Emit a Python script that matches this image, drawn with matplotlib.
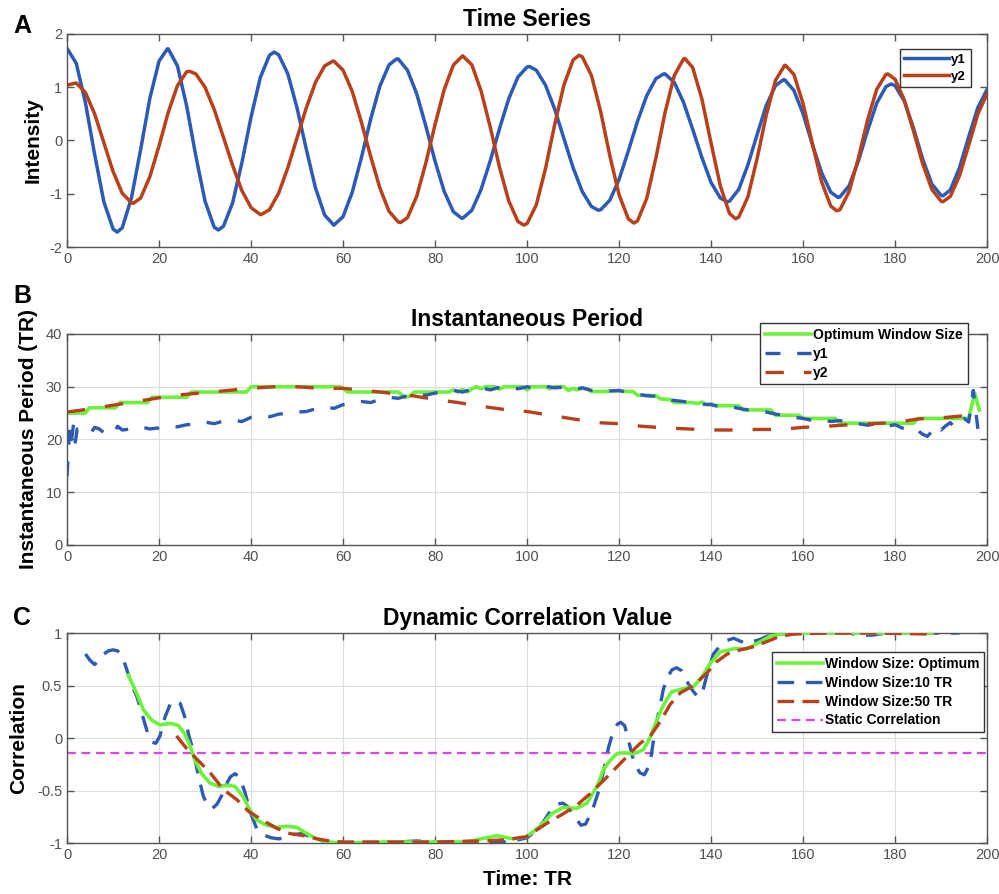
import numpy as np
import matplotlib.pyplot as plt
from matplotlib.ticker import FormatStrFormatter

plt.rcParams['font.family'] = ['Liberation Sans', 'DejaVu Sans']
plt.rcParams['axes.unicode_minus'] = False

BLUE = '#2c5ab4'
RED = '#b8401a'
GREEN = '#6cf23a'
MAGENTA = '#dd44ee'

# ---- panel A: time series, read every 2 TR plus the peaks/troughs ----
t = np.arange(0, 201, 2)
y1 = [1.73, 1.45, 0.71, -0.26, -1.15, -1.66, -1.64, -1.08, -0.17, 0.79,
      1.49, 1.72, 1.40, 0.65, -0.29, -1.14, -1.63, -1.61, -1.17, -0.42,
      0.44, 1.18, 1.60, 1.61, 1.25, 0.61, -0.16, -0.89, -1.40, -1.59,
      -1.43, -0.97, -0.32, 0.40, 1.02, 1.42, 1.53, 1.32, 0.88, 0.27,
      -0.39, -0.96, -1.34, -1.46, -1.31, -0.92, -0.38, 0.22, 0.78, 1.19,
      1.38, 1.32, 1.04, 0.59, 0.04, -0.51, -0.96, -1.24, -1.30, -1.12,
      -0.73, -0.20, 0.36, 0.84, 1.16, 1.25, 1.09, 0.72, 0.21, -0.32,
      -0.79, -1.08, -1.14, -0.92, -0.46, 0.11, 0.66, 1.03, 1.14, 0.94,
      0.50, -0.07, -0.60, -0.97, -1.06, -0.85, -0.39, 0.18, 0.70, 1.01,
      1.03, 0.74, 0.23, -0.35, -0.82, -1.03, -0.93, -0.51, 0.07, 0.62,
      0.96]
y2 = [1.04, 1.08, 0.90, 0.50, -0.04, -0.58, -0.99, -1.17, -1.08, -0.68,
      -0.10, 0.53, 1.03, 1.29, 1.25, 1.00, 0.58, 0.06, -0.47, -0.94,
      -1.26, -1.39, -1.30, -0.99, -0.51, 0.05, 0.61, 1.09, 1.40, 1.49,
      1.32, 0.92, 0.34, -0.30, -0.89, -1.33, -1.53, -1.45, -1.05, -0.42,
      0.30, 0.96, 1.42, 1.59, 1.42, 0.93, 0.25, -0.50, -1.13, -1.52,
      -1.56, -1.21, -0.53, 0.30, 1.04, 1.51, 1.57, 1.22, 0.54, -0.29,
      -1.02, -1.47, -1.51, -1.09, -0.33, 0.53, 1.22, 1.53, 1.37, 0.78,
      -0.05, -0.85, -1.37, -1.44, -1.06, -0.34, 0.48, 1.13, 1.41, 1.24,
      0.69, -0.05, -0.77, -1.23, -1.30, -0.96, -0.34, 0.38, 0.96, 1.24,
      1.15, 0.76, 0.18, -0.44, -0.92, -1.14, -1.05, -0.66, -0.09, 0.50,
      0.88]
y1_ext_t = [10.9, 21.8, 32.9, 45.0, 71.6, 85.8, 100.5, 115.5, 129.7, 143.5, 155.7, 167.6, 179.1, 190.4]
y1_ext = [-1.72, 1.72, -1.68, 1.66, 1.53, -1.46, 1.39, -1.31, 1.25, -1.15, 1.14, -1.07, 1.06, -1.04]
y2_ext_t = [14.4, 26.6, 42.2, 57.8, 72.5, 99.3, 111.3, 123.2, 134.3, 145.3, 156.2, 167.3, 178.4, 190.4]
y2_ext = [-1.18, 1.30, -1.39, 1.49, -1.54, -1.59, 1.60, -1.55, 1.54, -1.47, 1.41, -1.32, 1.25, -1.15]

# ---- panel B: instantaneous period ----
opt_x = [0, 4, 4.8, 10.5, 11.5, 17.5, 18.5, 26, 27, 39, 40, 59.5, 61, 72, 73.5, 74.5,
         75.5, 83, 84, 85, 86, 87, 88, 89, 90, 91, 93, 94, 95, 99, 100, 101, 104, 105,
         106, 108, 109, 110, 111, 112, 113, 114, 117, 118, 123, 124, 128, 129, 131, 132,
         136, 137, 138, 139, 140, 141, 146, 147, 153, 154, 159, 160, 167, 168, 184, 185,
         196, 197.3, 198.3]
opt_p = [25, 25, 26, 26, 27, 27, 28, 28, 29, 29, 30, 30, 29, 29, 28, 28.2,
         29, 29, 29.4, 29, 29.5, 29, 29.6, 30, 29.6, 30, 30, 29.5, 30, 30, 29.4, 30, 30, 29.6,
         30, 30, 29.3, 29.7, 29.4, 29.7, 29.6, 29.1, 29.1, 29.2, 29.1, 28.4, 28.3, 27.7, 27.6, 27,
         27, 26.8, 27.1, 26.6, 26.8, 26.4, 26.4, 25.6, 25.6, 24.6, 24.6, 24, 24, 23.1, 23.1, 24,
         24, 28.8, 25.6]

p1_x = [0, 0.3, 0.6, 1.0, 1.4, 1.8, 2.2, 3, 4, 5, 6, 7, 8, 9, 10, 11, 12, 13, 14,
        16, 18, 20, 22, 24, 26, 28, 30, 32, 34, 36, 38, 40, 42, 44, 46, 48, 50, 52,
        54, 56, 58, 60, 62, 64, 66, 68, 70, 72, 74, 76, 78, 80, 82, 84, 86, 88, 90,
        92, 94, 96, 98, 100, 102, 104, 106, 108, 110, 112, 114, 116, 118, 120, 122,
        124, 126, 128, 130, 132, 134, 136, 138, 140, 142, 144, 146, 148, 150, 152,
        154, 156, 158, 160, 162, 164, 166, 168, 170, 172, 174, 176, 178, 180, 182,
        184, 186, 187, 188, 189, 190, 191, 192, 193, 194, 195, 196, 197, 198]
p1 = [13, 18, 22.5, 20, 22.8, 19.5, 22, 21.8, 21.2, 21.0, 22.3, 22.0, 21.3, 21.5, 21.0,
      22.5, 21.8, 21.9, 22.2, 22.4, 22.0, 22.2, 22.6, 22.4, 22.8, 22.9, 23.3, 23.0, 23.5,
      23.7, 23.4, 24.2, 24.5, 24.3, 24.8, 25.0, 25.2, 25.3, 25.8, 26.2, 25.9, 26.6, 26.9,
      27.2, 27.0, 27.6, 28.0, 27.8, 28.3, 28.6, 28.4, 28.8, 29.0, 29.3, 29.0, 29.5, 29.8,
      29.4, 29.9, 30.1, 29.6, 30.0, 29.7, 30.1, 29.8, 29.9, 29.5, 29.8, 29.3, 29.4, 29.2,
      29.3, 28.9, 28.6, 28.3, 28.2, 27.6, 27.4, 27.2, 26.9, 26.7, 26.6, 26.2, 26.3, 25.9,
      25.6, 25.5, 25.2, 24.8, 24.6, 24.2, 24.0, 23.6, 23.8, 23.4, 23.6, 23.1, 23.0, 22.7,
      23.0, 22.5, 22.8, 22.0, 22.3, 21.0, 20.6, 21.5, 22.8, 21.8, 22.6, 23.2, 22.2, 23.5,
      24.0, 23.3, 29.3, 22.0]

p2_x = [0, 5, 10, 15, 20, 25, 30, 35, 40, 45, 50, 55, 60, 65, 70, 75, 80, 85, 90, 95,
        100, 105, 110, 115, 120, 125, 130, 135, 140, 145, 150, 155, 160, 165, 170, 175,
        180, 185, 190, 195, 198]
p2 = [25.2, 25.8, 26.5, 27.2, 27.9, 28.5, 28.9, 29.3, 29.7, 30.0, 30.0, 29.7, 29.7, 29.3,
      28.8, 28.3, 27.6, 27.0, 26.3, 25.7, 25.3, 24.6, 23.9, 23.2, 23.0, 22.5, 22.2, 22.0,
      21.8, 21.8, 21.9, 21.9, 22.3, 22.5, 22.8, 23.0, 23.2, 23.9, 24.1, 24.5, 25.0]

# ---- panel C: dynamic correlation ----
copt_x = [13.3, 15.1, 16.6, 18.4, 20.2, 22.4, 24.2, 25.6, 26.7, 27.8, 29.3, 31.1, 32.9,
          34.7, 36.5, 38.3, 39.8, 41.2, 43.4, 45.6, 47.8, 49.9, 52.1, 54.3, 56.5, 60, 70,
          80, 86, 88, 90, 93.4, 97, 99.9, 102.8, 105.4, 107.9, 110.8, 113, 115.2, 116.6,
          118.1, 119.5, 121, 123.1, 125.3, 126.7, 128.2, 129.6, 131.4, 134, 136.2, 138,
          139.8, 142, 144.9, 147.8, 150, 152.8, 155, 160, 170, 180, 188]
copt = [0.60, 0.43, 0.27, 0.17, 0.125, 0.14, 0.12, 0.04, -0.07, -0.21, -0.34, -0.43, -0.46,
        -0.45, -0.46, -0.56, -0.69, -0.78, -0.83, -0.85, -0.84, -0.85, -0.91, -0.96, -0.99,
        -1.0, -0.99, -0.99, -0.99, -0.98, -0.96, -0.93, -0.96, -0.94, -0.84, -0.72, -0.66,
        -0.67, -0.62, -0.46, -0.30, -0.21, -0.15, -0.14, -0.15, -0.11, 0.0, 0.17, 0.31,
        0.44, 0.47, 0.49, 0.58, 0.71, 0.82, 0.85, 0.85, 0.90, 0.97, 0.99, 1.0, 1.0, 1.0, 1.0]

c10_x = [4, 5, 6, 7, 8, 9, 10, 11, 12, 13, 14, 15.3, 16.5, 17.5, 18.5, 19.3, 20.2, 21.3,
         22.5, 23.6, 24.6, 25.6, 26.5, 27.5, 28.5, 29.6, 30.6, 31.6, 32.6, 33.6, 34.5,
         35.5, 36.5, 37.5, 38.7, 39.8, 41.2, 42.5, 44.4, 46, 47.5, 49, 51, 53, 55.5, 58,
         65, 72, 76, 78, 82, 90, 95, 98, 100, 102, 103.5, 105, 106.5, 107.8, 109, 110.5,
         111.7, 112.7, 114.1, 115.6, 116.7, 117.7, 118.7, 119.6, 120.3, 121.2, 122.2,
         123.3, 124.5, 125.5, 126.7, 127.9, 128.8, 129.6, 130.5, 131.5, 132.5, 133.6, 135,
         136.2, 137.2, 138.2, 139.1, 140.5, 142, 143.5, 144.9, 146.5, 147.8, 150.7, 152.2,
         155, 160, 170, 172, 175, 178, 194]
c10 = [0.8, 0.74, 0.7, 0.74, 0.8, 0.83, 0.84, 0.83, 0.78, 0.65, 0.52, 0.38, 0.2, 0.05,
       -0.04, -0.05, 0.02, 0.2, 0.33, 0.36, 0.33, 0.2, 0.02, -0.13, -0.35, -0.55, -0.65,
       -0.67, -0.63, -0.55, -0.45, -0.37, -0.34, -0.37, -0.52, -0.70, -0.86, -0.92, -0.95,
       -0.96, -0.95, -0.92, -0.91, -0.94, -0.98, -1.0, -1.0, -0.99, -0.98, -0.985, -1.0,
       -1.0, -0.99, -0.97, -0.95, -0.88, -0.80, -0.70, -0.63, -0.62, -0.66, -0.76, -0.83,
       -0.82, -0.7, -0.5, -0.3, -0.09, 0.06, 0.13, 0.15, 0.12, -0.05, -0.24, -0.33, -0.35,
       -0.25, 0.1, 0.28, 0.46, 0.58, 0.65, 0.67, 0.64, 0.52, 0.44, 0.39, 0.45, 0.6, 0.8,
       0.88, 0.93, 0.95, 0.92, 0.9, 0.94, 0.97, 0.99, 1.0, 1.0, 0.98, 0.98, 1.0, 1.0]

c50_x = [23.8, 26, 28.2, 31.1, 34, 37, 39.5, 42.4, 45.6, 48.5, 51.4, 54.3, 57, 60, 70, 80,
         90, 95, 99.9, 104, 107.9, 110.8, 113.7, 117.4, 120.3, 122.5, 124.6, 126.8, 129,
         131.1, 133.3, 136.2, 139.1, 141.3, 143.5, 146.4, 149.3, 152.2, 155, 158, 165, 175,
         188]
c50 = [0.02, -0.1, -0.2, -0.33, -0.49, -0.59, -0.70, -0.78, -0.86, -0.91, -0.93, -0.96,
       -0.98, -0.99, -0.99, -0.99, -0.98, -0.97, -0.94, -0.82, -0.72, -0.64, -0.53, -0.37,
       -0.24, -0.14, -0.05, 0.02, 0.16, 0.32, 0.43, 0.50, 0.62, 0.73, 0.80, 0.84, 0.87,
       0.92, 0.97, 0.99, 1.0, 1.0, 0.99]

static_corr = -0.14


def merge(xa, ya, xb, yb):
    # put the read-off extrema in between the regular samples
    x = np.concatenate([xa, xb])
    y = np.concatenate([ya, yb])
    idx = np.argsort(x)
    return x[idx], y[idx]


def style_axes(ax, grid=False):
    ax.set_xlim(0, 200)
    ax.set_xticks(range(0, 201, 20))
    ax.tick_params(direction='in', top=True, right=True, length=5, width=1,
                   color='#555555', labelcolor='#505050', labelsize=10.5)
    for s in ax.spines.values():
        s.set_color('#555555')
        s.set_linewidth(1)
    if grid:
        ax.grid(True, color='#dddddd', linewidth=0.8)
        ax.set_axisbelow(True)


def add_legend(ax, anchor, size, hlen=3.3, handles=None, labels=None):
    if handles is None:
        handles, labels = ax.get_legend_handles_labels()
    leg = ax.legend(handles, labels, loc='upper right', bbox_to_anchor=anchor,
                    fancybox=False, framealpha=1, edgecolor='#333333', borderaxespad=0,
                    prop={'weight': 'bold', 'size': size}, handlelength=hlen,
                    handletextpad=0.15, borderpad=0.35, labelspacing=0.35)
    leg.get_frame().set_linewidth(1)
    leg.set_zorder(10)
    return leg


fig = plt.figure(figsize=(9.99, 8.94), dpi=100)
axA = fig.add_axes([0.0671, 0.7237, 0.921, 0.2383])
axB = fig.add_axes([0.0671, 0.3904, 0.921, 0.2360])
axC = fig.add_axes([0.0671, 0.0570, 0.921, 0.2349])

# A
tx1, yy1 = merge(t, y1, y1_ext_t, y1_ext)
tx2, yy2 = merge(t, y2, y2_ext_t, y2_ext)
axA.plot(tx1, yy1, color=BLUE, lw=2.5, solid_joinstyle='round', label='y1')
axA.plot(tx2, yy2, color=RED, lw=2.5, solid_joinstyle='round', label='y2')
style_axes(axA)
axA.set_ylim(-2, 2)
axA.set_yticks([-2, -1, 0, 1, 2])
axA.set_title('Time Series', fontsize=16.5, fontweight='bold', pad=6)
axA.set_ylabel('Intensity', fontsize=15, fontweight='bold')
axA.yaxis.set_label_coords(-0.026, 0.5)
legA = add_legend(axA, (0.982, 0.93), 9.5, hlen=3.4)

# B
axB.plot(opt_x, opt_p, color=GREEN, lw=2.6, label='Optimum Window Size')
axB.plot(p1_x, p1, color=BLUE, lw=2.4, dashes=(4.5, 5), label='y1')
axB.plot(p2_x, p2, color=RED, lw=2.4, dashes=(5.5, 6), label='y2')
style_axes(axB, grid=True)
axB.set_ylim(0, 40)
axB.set_yticks(range(0, 41, 10))
axB.set_title('Instantaneous Period', fontsize=16.5, fontweight='bold', pad=6)
axB.set_ylabel('Instantaneous Period (TR)', fontsize=15, fontweight='bold')
axB.yaxis.set_label_coords(-0.0315, 0.5)
add_legend(axB, (0.979, 1.052), 10)

# C
axC.axhline(static_corr, color=MAGENTA, lw=1.6, dashes=(4, 2.5), label='Static Correlation', zorder=1)
axC.plot(copt_x, copt, color=GREEN, lw=2.6, label='Window Size: Optimum', zorder=3)
axC.plot(c10_x, c10, color=BLUE, lw=2.4, dashes=(5, 3.5), label='Window Size:10 TR', zorder=2)
axC.plot(c50_x, c50, color=RED, lw=2.4, dashes=(5, 2.5), label='Window Size:50 TR', zorder=4)
style_axes(axC, grid=True)
axC.set_ylim(-1, 1)
axC.set_yticks([-1, -0.5, 0, 0.5, 1])
axC.yaxis.set_major_formatter(FormatStrFormatter('%g'))
axC.set_title('Dynamic Correlation Value', fontsize=16.5, fontweight='bold', pad=6)
axC.set_ylabel('Correlation', fontsize=15, fontweight='bold')
axC.yaxis.set_label_coords(-0.042, 0.5)
axC.set_xlabel('Time: TR', fontsize=15, fontweight='bold')
axC.xaxis.set_label_coords(0.5, -0.13)
h, l = axC.get_legend_handles_labels()
order = [1, 2, 3, 0]
add_legend(axC, (0.997, 0.91), 10, handles=[h[i] for i in order], labels=[l[i] for i in order])

# panel letters
fig.text(0.013, 0.963, 'A', fontsize=18, fontweight='bold')
fig.text(0.013, 0.661, 'B', fontsize=18, fontweight='bold')
fig.text(0.013, 0.301, 'C', fontsize=18, fontweight='bold')

fig.savefig('out.png', dpi=100)
